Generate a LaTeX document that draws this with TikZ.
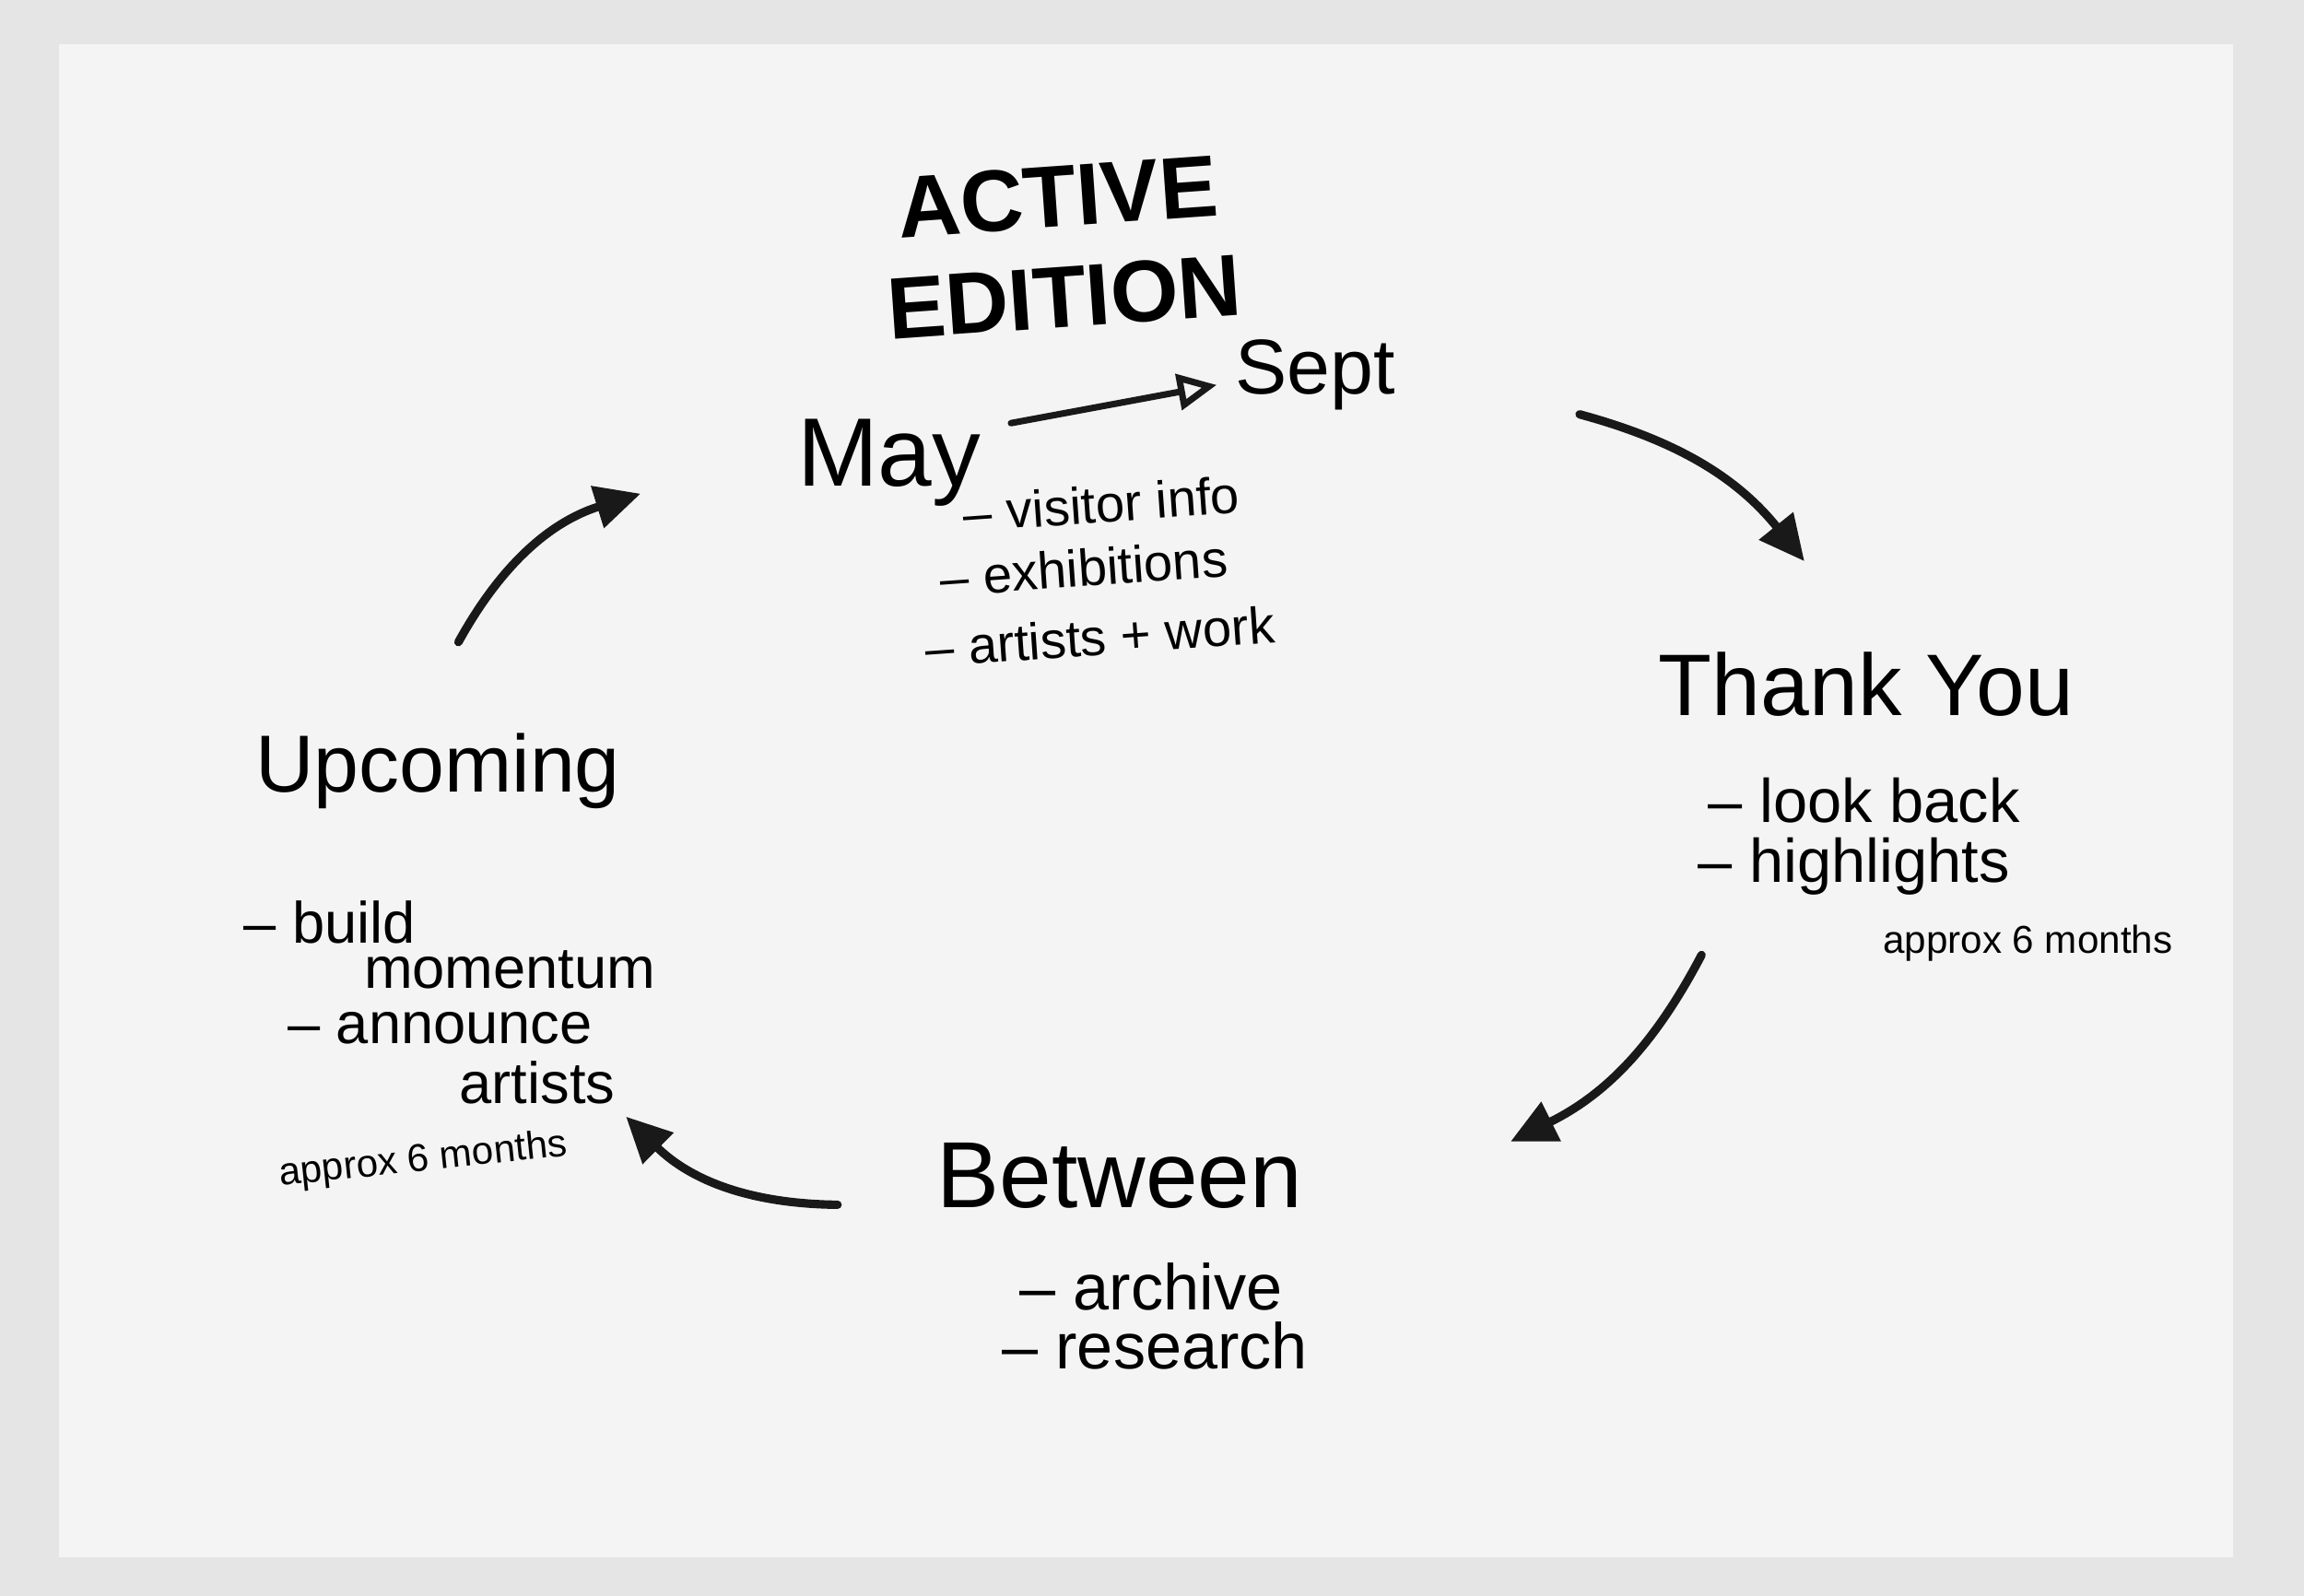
\documentclass[tikz,border=0pt]{standalone}
\usepackage{fontspec}
\setmainfont{Liberation Sans}
\usetikzlibrary{arrows.meta}
\begin{document}
\begin{tikzpicture}[x=0.01594cm,y=-0.01594cm,
  ink/.style={line width=2.6pt,draw=black!90,line cap=round},
  head/.style={-{Triangle[length=14pt,width=13pt]}},
  big/.style={font=\fontsize{27}{31}\selectfont\bfseries,align=center},
  title/.style={font=\fontsize{27}{30}\selectfont},
  item/.style={font=\fontsize{16}{19}\selectfont,align=left,anchor=west},
  small/.style={font=\fontsize{12}{14}\selectfont}]
\useasboundingbox (0,0) rectangle (1568,1086);
\fill[gray!20] (0,0) rectangle (1568,1086);
\fill[gray!9] (40,30) rectangle (1520,1060);
% Active edition
\node[big,rotate=4] (ae) at (722,168) {ACTIVE\\EDITION};
\node[title,font=\fontsize{30}{32}\selectfont] (may) at (605,315) {May};
\node[title,font=\fontsize{24}{26}\selectfont] (sept) at (895,255) {Sept};
\draw[ink,line width=2pt,-{Triangle[open,length=12pt,width=11pt]}] (688,288) -- (828,262);
\node[item,rotate=4] (ae1) at (648,350) {– visitor info};
\node[item,rotate=4] (ae2) at (632,394) {– exhibitions};
\node[item,rotate=4] (ae3) at (622,442) {– artists + work};
% Thank you
\node[title] (ty) at (1270,466) {Thank You};
\node[item,font=\fontsize{19}{22}\selectfont] (ty1) at (1155,545) {– look back};
\node[item,font=\fontsize{19}{22}\selectfont] (ty2) at (1148,590) {– highlights};
\node[small] (ty3) at (1380,642) {approx 6 months};
% Between
\node[title,font=\fontsize{29}{32}\selectfont] (bw) at (762,800) {Between};
\node[item,font=\fontsize{20}{24}\selectfont] (bw1) at (686,876) {– archive};
\node[item,font=\fontsize{20}{24}\selectfont] (bw2) at (674,916) {– research};
% Upcoming
\node[title,font=\fontsize{25}{28}\selectfont] (up) at (298,525) {Upcoming};
\node[item,font=\fontsize{18}{21}\selectfont] (up1) at (158,628) {– build};
\node[item,font=\fontsize{18}{21}\selectfont] (up1b) at (240,660) {momentum};
\node[item,font=\fontsize{18}{21}\selectfont] (up2) at (188,700) {– announce};
\node[item,font=\fontsize{18}{21}\selectfont] (up2b) at (305,737) {artists};
\node[small,rotate=6] (up3) at (288,790) {approx 6 months};
% cycle arrows
\coordinate (a1s) at (1075,282); \coordinate (a1e) at (1228,382);
\coordinate (a2s) at (1158,650); \coordinate (a2e) at (1028,777);
\coordinate (a3s) at (570,820); \coordinate (a3e) at (426,760);
\coordinate (a4s) at (312,437); \coordinate (a4e) at (436,336);
\draw[ink,head] (a1s) to[bend left=18] (a1e);
\draw[ink,head] (a2s) to[bend left=18] (a2e);
\draw[ink,head] (a3s) to[bend left=22] (a3e);
\draw[ink,head] (a4s) to[bend left=22] (a4e);
\end{tikzpicture}
\end{document}
